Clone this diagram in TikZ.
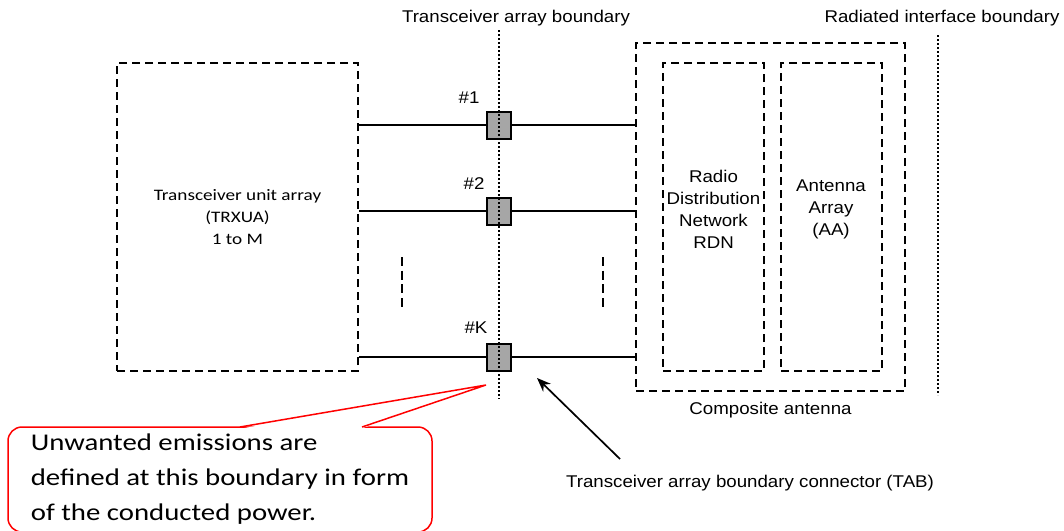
\documentclass[tikz,border=0pt]{standalone}
\usepackage{fontspec}
\setmainfont{Liberation Sans}[FakeStretch=1.1]
\newfontfamily\calibri{Carlito}[FakeStretch=1.2]
\usetikzlibrary{positioning,arrows.meta}
\begin{document}
\begin{tikzpicture}[x=1pt,y=-1pt,>={Stealth[length=14pt,width=11pt]},
  dashbox/.style={draw,dash pattern=on 8pt off 5pt,line width=1.8pt,inner sep=0pt},
  tabbox/.style={draw,line width=2pt,fill=gray!70,minimum width=24pt,minimum height=27pt,inner sep=0pt},
  dotline/.style={line width=2pt,dash pattern=on 2pt off 2pt},
  lbl/.style={font=\fontsize{17}{22}\selectfont,align=center,inner sep=2pt}]
\useasboundingbox (0,0) rectangle (1064,530);

% transceiver unit array
\node[dashbox,minimum width=241pt,minimum height=308pt,align=center,
  font=\calibri\fontsize{16}{22}\selectfont] (trx) at (237.5,217) {Transceiver unit array\\(TRXUA)\\1 to M};

% composite antenna
\node[dashbox,minimum width=269pt,minimum height=348pt] (comp) at (770.5,217) {};
\node[dashbox,minimum width=101pt,minimum height=308pt] (rdn) at (713.5,217) {};
\node[dashbox,minimum width=101pt,minimum height=308pt] (aa) at (831.5,217) {};
\node[lbl] (rdntxt) at (713.5,209) {Radio\\Distribution\\Network\\RDN};
\node[lbl] (aatxt) at (831,209) {Antenna\\Array\\(AA)};
\node[lbl,below=8pt of comp] (complbl) {Composite antenna};

% TAB connectors
\node[tabbox] (tab1) at (499,125) {};
\node[tabbox] (tab2) at (499,211) {};
\node[tabbox] (tabk) at (499,357) {};
\node[lbl] (num1) at (469,98) {\#1};
\node[lbl] (num2) at (474,184) {\#2};
\node[lbl] (numk) at (476,328) {\#K};
\foreach \t in {tab1,tab2,tabk} {
  \draw[line width=1.7pt] (trx.east |- \t) -- (\t.west);
  \draw[line width=1.7pt] (\t.east) -- (comp.west |- \t);
}
\draw[line width=2.2pt,dash pattern=on 9pt off 4.7pt] (402,257) -- (402,307);
\draw[line width=2.2pt,dash pattern=on 9pt off 4.7pt] (603,257) -- (603,307);

% boundaries
\coordinate (tabtop) at (499,30);
\coordinate (tabbot) at (499,399);
\draw[dotline] (tabtop) -- (tabbot);
\node[lbl] (tabtitle) at (516,18) {Transceiver array boundary};
\coordinate (radtop) at (938,35);
\coordinate (radbot) at (938,395);
\draw[dotline] (radtop) -- (radbot);
\node[lbl] (radtitle) at (942,18) {Radiated interface boundary};

\node[lbl] (tablbl) at (750,483) {Transceiver array boundary connector (TAB)};
\coordinate (arrtail) at (620,459);
\coordinate (arrtip) at (537,378);
\draw[->,line width=1.7pt] (arrtail) -- (arrtip);

% callout
\node[draw=red,line width=1.5pt,rounded corners=14pt,minimum width=424pt,minimum height=105pt,
  align=left,font=\calibri\fontsize{24}{35}\selectfont] (note) at (220,479.5)
  {Unwanted emissions are\\defined at this boundary in form\\of the conducted power.};
\coordinate (tip) at (486,385);
\fill[white] (241,428.6) -- (tip) -- (361,428.6) -- cycle;
\draw[red,line width=1.5pt] (240,427) -- (tip) -- (362,427);
\end{tikzpicture}
\end{document}
